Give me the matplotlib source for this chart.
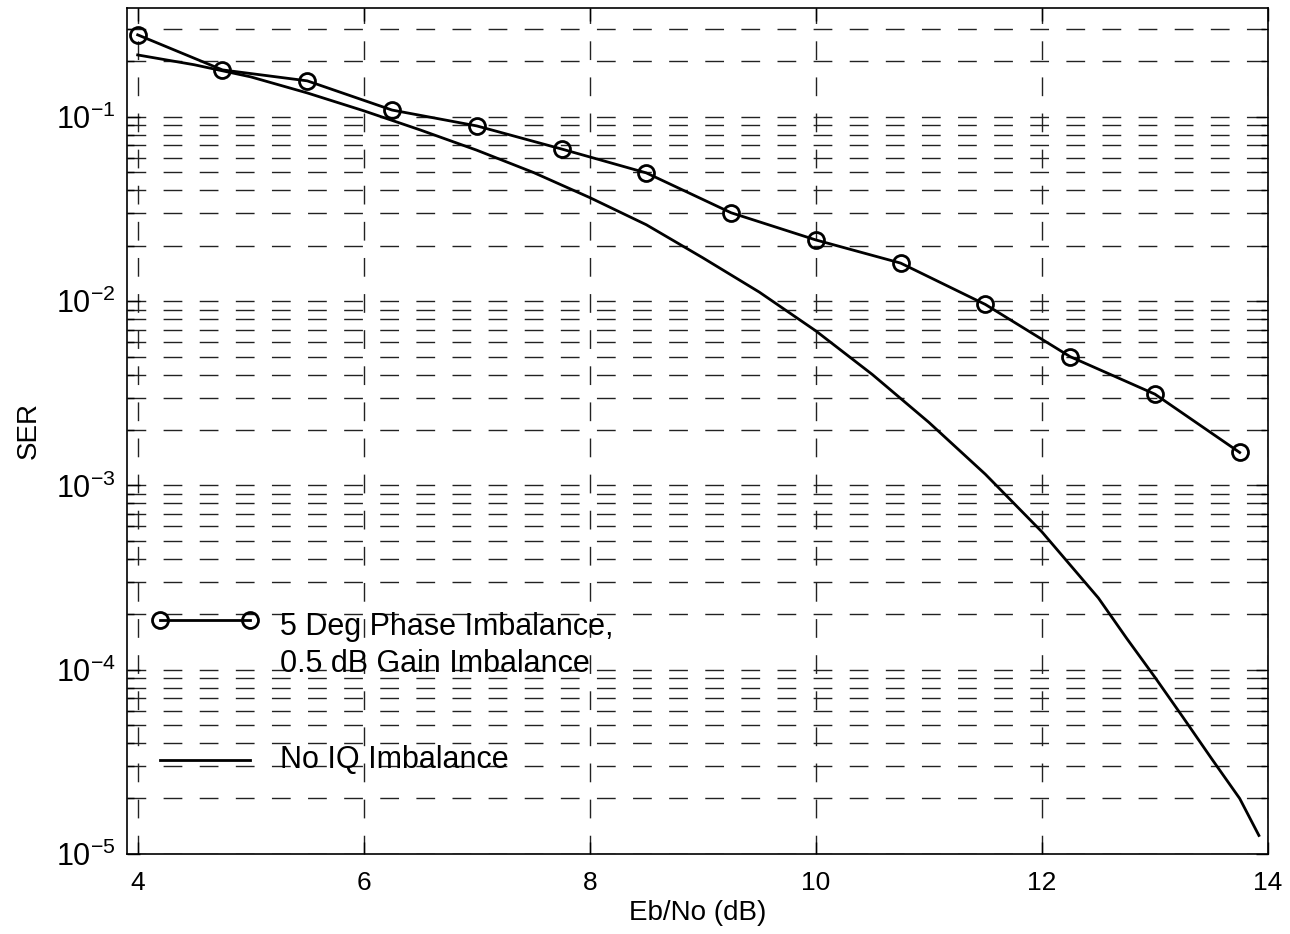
import matplotlib
matplotlib.use('Agg')
from matplotlib import pyplot as plt

plt.rcParams['font.family'] = ['Liberation Sans', 'DejaVu Sans']
plt.rcParams['lines.scale_dashes'] = False

# Eb/No points of the simulated run with IQ imbalance (circles)
ebno_iq = [4.0, 4.75, 5.5, 6.25, 7.0, 7.75, 8.5, 9.25, 10.0, 10.75, 11.5, 12.25, 13.0, 13.75]
ser_iq = [0.279, 0.180, 0.157, 0.109, 0.0894, 0.067, 0.0497, 0.0302, 0.0215,
          0.0161, 0.0096, 0.0050, 0.00313, 0.00151]

# Reference curve without IQ imbalance
ebno_ref = [4.0, 4.5, 5.0, 5.5, 6.0, 6.5, 7.0, 7.5, 8.0, 8.5, 9.0, 9.5, 10.0,
            10.5, 11.0, 11.5, 12.0, 12.5, 12.75, 13.0, 13.25, 13.5, 13.75, 13.92]
ser_ref = [0.217, 0.192, 0.165, 0.135, 0.108, 0.085, 0.066, 0.050, 0.0365, 0.026,
           0.0172, 0.0112, 0.0069, 0.0040, 0.0022, 0.00115, 0.00056, 0.000245,
           0.000148, 9.1e-5, 5.5e-5, 3.3e-5, 2.0e-5, 1.26e-5]

label_iq = ['5 Deg Phase Imbalance,', '0.5 dB Gain Imbalance']
label_ref = 'No IQ Imbalance'

fig = plt.figure(figsize=(12.9, 9.34), dpi=100)
ax = fig.add_axes([0.0984, 0.0857, 0.8845, 0.9057])

ax.semilogy(ebno_iq, ser_iq, color='black', lw=2.0, marker='o', ms=11.5,
            mfc='none', mec='black', mew=2.0)
ax.semilogy(ebno_ref, ser_ref, color='black', lw=2.0)

ax.set_xlim(3.905, 13.975)
ax.set_ylim(1e-5, 0.39)
ax.set_xticks([4, 6, 8, 10, 12, 14])

# matlab style dashed grid, minor lines on the log axis only
dash = (0, (13.5, 12.5))
ax.grid(True, which='major', axis='both', color='#222222', lw=1.0, linestyle=dash)
ax.grid(True, which='minor', axis='y', color='#222222', lw=1.0, linestyle=dash)

ax.tick_params(which='both', direction='in', top=True, right=True, color='black')
ax.tick_params(which='major', length=9, width=1.0)
ax.tick_params(which='minor', length=5, width=1.0)
ax.tick_params(axis='x', labelsize=19, pad=12)
ax.tick_params(axis='y', labelsize=22, pad=8)
for s in ax.spines.values():
    s.set_linewidth(1.2)
    s.set_color('black')

ax.set_xlabel('Eb/No (dB)', fontsize=20, labelpad=4)
ax.set_ylabel('SER', fontsize=20, labelpad=10)

# legend drawn without a frame, like the matlab one
ax.plot([0.029, 0.108], [0.277, 0.277], transform=ax.transAxes, color='black',
        lw=2.0, marker='o', ms=11.5, mfc='none', mec='black', mew=2.0)
ax.text(0.134, 0.268, label_iq[0], transform=ax.transAxes, fontsize=22,
        va='center', ha='left')
ax.text(0.134, 0.2246, label_iq[1], transform=ax.transAxes, fontsize=22,
        va='center', ha='left')
ax.plot([0.029, 0.108], [0.111, 0.111], transform=ax.transAxes, color='black', lw=2.0)
ax.text(0.134, 0.111, label_ref, transform=ax.transAxes, fontsize=22,
        va='center', ha='left')

fig.savefig('out.png', dpi=100)
plt.close(fig)
